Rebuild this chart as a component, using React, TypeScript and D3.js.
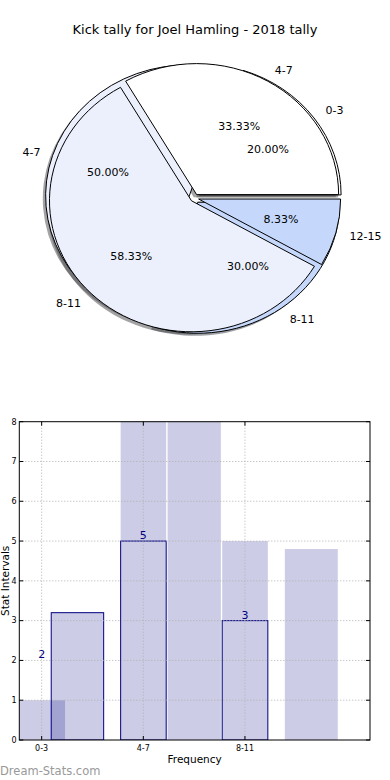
import { useEffect, useRef } from 'react';
import * as d3 from 'd3';

// pie data (two overlapping pies, same colour cycle)
const pieLabelsA = ['0-3', '4-7', '8-11'];
const pieValuesA = [2, 5, 3];
const pieLabelsB = ['4-7', '8-11', '12-15'];
const pieValuesB = [4, 7, 1];
const pieColors = ['#ffffff', '#ebf0fc', '#c5d8fc'];
const explodeA = 0.04;
const explodeB = 0.03;

// bar chart data
const tickLabels = ['0-3', '4-7', '8-11'];
const tally = [2, 5, 3];
const fillStart = [-0.22, 0.094, 0.777, 1.239, 1.776, 2.392];
const fillWidth = [0.45, 0.516, 0.448, 0.524, 0.449, 0.521];
const fillHeight = [1, 3.2, 8.6, 8.6, 5, 4.8];
const outlineStart = [0.094, 0.777, 1.776];
const outlineWidth = [0.516, 0.448, 0.449];
const outlineHeight = [3.2, 5, 3];
const yTicks = [0, 1, 2, 3, 4, 5, 6, 7, 8];

const FONT = 'DejaVu Sans, sans-serif';

export default function App() {
	const ref = useRef<SVGSVGElement | null>(null);

	useEffect(() => {
		if (!ref.current) return;
		const svg = d3.select(ref.current);
		svg.selectAll('*').remove();

		svg
			.append('text')
			.attr('x', 195)
			.attr('y', 34)
			.attr('text-anchor', 'middle')
			.style('font-family', FONT)
			.style('font-size', '13px')
			.text('Kick tally for Joel Hamling - 2018 tally');

		// ---- pies ----
		const cx = 194.5;
		const cy = 198;
		const rx = 142;
		const ry = 131;

		// matplotlib style: start at 3 o'clock, counter-clockwise
		const pie = d3
			.pie<number>()
			.sort(null)
			.startAngle(Math.PI / 2)
			.endAngle(Math.PI / 2 - 2 * Math.PI);
		const arc = d3.arc<any>().innerRadius(0).outerRadius(1);

		const pies = [
			{ arcs: pie(pieValuesA), labels: pieLabelsA, explode: explodeA, total: d3.sum(pieValuesA) },
			{ arcs: pie(pieValuesB), labels: pieLabelsB, explode: explodeB, total: d3.sum(pieValuesB) },
		];

		const offset = (a: any, dist: number) => {
			const m = (a.startAngle + a.endAngle) / 2;
			return [Math.sin(m) * dist * rx, -Math.cos(m) * dist * ry];
		};

		const shadows = svg.append('g');
		const wedges = svg.append('g');
		const texts = svg.append('g').style('font-family', FONT).style('font-size', '11px');

		pies.forEach(p => {
			p.arcs.forEach((a, i) => {
				const [ox, oy] = offset(a, p.explode);
				const col = d3.rgb(pieColors[i]);
				shadows
					.append('path')
					.attr('d', arc(a))
					.attr('transform', `translate(${cx + ox - 0.02 * rx},${cy + oy + 0.02 * ry}) scale(${rx},${ry})`)
					.attr('fill', d3.rgb(col.r * 0.3, col.g * 0.3, col.b * 0.3).toString())
					.attr('fill-opacity', 0.5);
				wedges
					.append('path')
					.attr('d', arc(a))
					.attr('transform', `translate(${cx + ox},${cy + oy}) scale(${rx},${ry})`)
					.attr('fill', pieColors[i])
					.attr('stroke', '#000')
					.attr('stroke-width', 1)
					.attr('vector-effect', 'non-scaling-stroke');

				const [lx, ly] = offset(a, 1.1 + p.explode);
				texts
					.append('text')
					.attr('x', cx + lx)
					.attr('y', cy + ly)
					.attr('dy', '0.35em')
					.attr('text-anchor', lx > 0 ? 'start' : 'end')
					.text(p.labels[i]);

				const [px, py] = offset(a, 0.6 + p.explode);
				texts
					.append('text')
					.attr('x', cx + px)
					.attr('y', cy + py)
					.attr('dy', '0.35em')
					.attr('text-anchor', 'middle')
					.text(((a.data / p.total) * 100).toFixed(2) + '%');
			});
		});

		// ---- bars ----
		const left = 19.3;
		const right = 370;
		const top = 421.7;
		const bottom = 740;
		const x = d3.scaleLinear().domain([-0.22, 3.23]).range([left, right]);
		const y = d3.scaleLinear().domain([0, 8]).range([bottom, top]);

		svg
			.append('clipPath')
			.attr('id', 'plotclip')
			.append('rect')
			.attr('x', left)
			.attr('y', top)
			.attr('width', right - left)
			.attr('height', bottom - top);

		const plot = svg.append('g').attr('clip-path', 'url(#plotclip)');

		plot
			.selectAll('rect.fill')
			.data(fillStart)
			.join('rect')
			.attr('x', (d) => x(d))
			.attr('width', (d, i) => x(d + fillWidth[i]) - x(d))
			.attr('y', (d, i) => y(fillHeight[i]))
			.attr('height', (d, i) => y(0) - y(fillHeight[i]))
			.attr('fill', '#000080')
			.attr('fill-opacity', 0.2);

		// grid
		const grid = svg.append('g').attr('stroke', '#b0b0b0').attr('stroke-dasharray', '1,2');
		yTicks.slice(1, -1).forEach(t => {
			grid.append('line').attr('x1', left).attr('x2', right).attr('y1', y(t)).attr('y2', y(t));
		});
		tickLabels.forEach((t, i) => {
			grid.append('line').attr('x1', x(i)).attr('x2', x(i)).attr('y1', top).attr('y2', bottom);
		});

		plot
			.selectAll('rect.outline')
			.data(outlineStart)
			.join('rect')
			.attr('x', (d) => x(d))
			.attr('width', (d, i) => x(d + outlineWidth[i]) - x(d))
			.attr('y', (d, i) => y(outlineHeight[i]))
			.attr('height', (d, i) => y(0) - y(outlineHeight[i]))
			.attr('fill', 'none')
			.attr('stroke', '#000080')
			.attr('stroke-width', 1);

		svg
			.append('g')
			.selectAll('text')
			.data(tally)
			.join('text')
			.attr('x', (d, i) => x(i))
			.attr('y', (d) => y(d) - 2)
			.attr('text-anchor', 'middle')
			.attr('fill', '#000080')
			.style('font-family', FONT)
			.style('font-size', '11px')
			.text((d) => d);

		// frame and ticks
		svg
			.append('rect')
			.attr('x', left)
			.attr('y', top)
			.attr('width', right - left)
			.attr('height', bottom - top)
			.attr('fill', 'none')
			.attr('stroke', '#000')
			.attr('stroke-width', 1);

		const ticks = svg.append('g').attr('stroke', '#000').attr('stroke-width', 1);
		yTicks.forEach(t => {
			ticks.append('line').attr('x1', left).attr('x2', left + 4).attr('y1', y(t)).attr('y2', y(t));
			ticks.append('line').attr('x1', right - 4).attr('x2', right).attr('y1', y(t)).attr('y2', y(t));
		});
		tickLabels.forEach((t, i) => {
			ticks.append('line').attr('x1', x(i)).attr('x2', x(i)).attr('y1', bottom).attr('y2', bottom - 4);
			ticks.append('line').attr('x1', x(i)).attr('x2', x(i)).attr('y1', top).attr('y2', top + 4);
		});

		const labels = svg.append('g').style('font-family', FONT);
		yTicks.forEach(t => {
			labels
				.append('text')
				.attr('x', 16.5)
				.attr('y', y(t))
				.attr('dy', '0.35em')
				.attr('text-anchor', 'end')
				.style('font-size', '8px')
				.text(t);
		});
		tickLabels.forEach((t, i) => {
			labels
				.append('text')
				.attr('x', x(i))
				.attr('y', 751)
				.attr('text-anchor', 'middle')
				.style('font-size', '8px')
				.text(t);
		});

		labels
			.append('text')
			.attr('x', (left + right) / 2)
			.attr('y', 763)
			.attr('text-anchor', 'middle')
			.style('font-size', '10.5px')
			.text('Frequency');

		labels
			.append('text')
			.attr('transform', `translate(9,${(top + bottom) / 2}) rotate(-90)`)
			.attr('text-anchor', 'middle')
			.style('font-size', '10.5px')
			.text('Stat Intervals');

		labels
			.append('text')
			.attr('x', 0)
			.attr('y', 775)
			.attr('fill', '#999')
			.style('font-size', '11.5px')
			.text('Dream-Stats.com');
	}, []);

	return (
		<svg
			ref={ref}
			width={390}
			height={780}
			style={{ position: 'absolute', left: 0, top: 0, background: '#fff' }}
		/>
	);
}
